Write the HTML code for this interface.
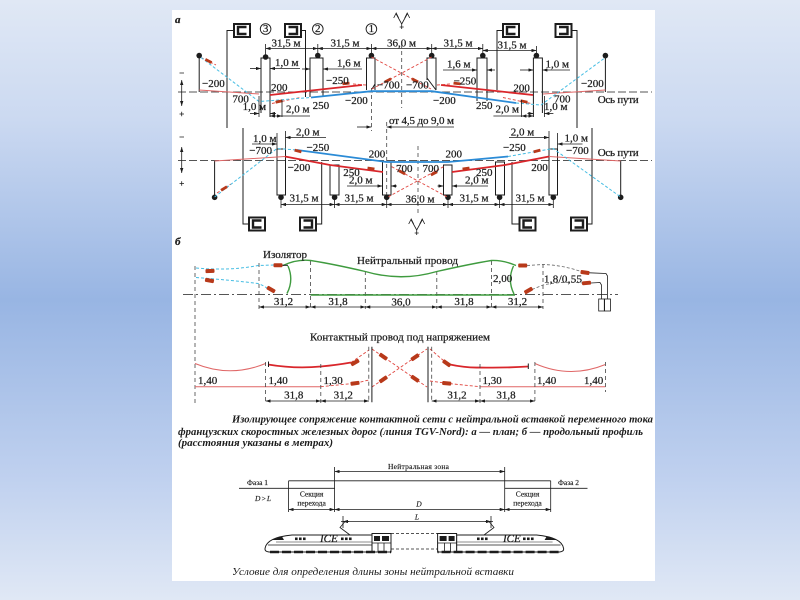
<!DOCTYPE html>
<html><head><meta charset="utf-8">
<style>
html,body{margin:0;padding:0;background:#c0d0ee}
svg{display:block}
text{font-family:"Liberation Serif","DejaVu Serif",serif;fill:#1c1c1c;font-size:11px;stroke:#1c1c1c;stroke-width:0.25}
.k{stroke:#1c1c1c;stroke-width:1;fill:none}
.d{stroke:#1c1c1c;stroke-width:0.8;fill:none;marker-start:url(#ar);marker-end:url(#ar)}
.de{stroke:#1c1c1c;stroke-width:0.8;fill:none;marker-end:url(#ar)}
.ds{stroke:#1c1c1c;stroke-width:0.8;fill:none;marker-start:url(#ar)}
.ln{stroke:#1c1c1c;stroke-width:0.8;fill:none}
.ax{stroke:#555;stroke-width:0.9;stroke-dasharray:8 3;fill:none}
.dc{stroke:#444;stroke-width:0.8;stroke-dasharray:4 3;fill:none}
.rs{stroke:#d9262b;stroke-width:1.8;fill:none}
.rt{stroke:#e06767;stroke-width:1;fill:none}
.rd{stroke:#e0453f;stroke-width:0.9;stroke-dasharray:3 2;fill:none}
.bs{stroke:#2b8bd6;stroke-width:1.8;fill:none}
.cd{stroke:#45bde3;stroke-width:1;stroke-dasharray:3 2;fill:none}
.gd{stroke:#666;stroke-width:0.8;stroke-dasharray:3 2;fill:none}
.gr{stroke:#3f9b3f;stroke-width:1.4;fill:none}
.ins{fill:#b8391a}
.sm{font-size:7.5px;stroke-width:0.15}
.cap text{stroke-width:0}
</style></head><body>
<svg width="800" height="600" viewBox="0 0 800 600" xmlns="http://www.w3.org/2000/svg">
<defs>
<linearGradient id="bg" x1="0" y1="0" x2="0" y2="1">
<stop offset="0" stop-color="#e0e8f5"/>
<stop offset="0.2" stop-color="#cbd9f1"/>
<stop offset="0.5" stop-color="#98b5e3"/>
<stop offset="0.8" stop-color="#c0d1ef"/>
<stop offset="1" stop-color="#e0e8f5"/>
</linearGradient>
<marker id="ar" viewBox="0 0 6 4" refX="6" refY="2" markerWidth="5" markerHeight="3.4" orient="auto-start-reverse" markerUnits="userSpaceOnUse"><path d="M0,0L6,2L0,4z" fill="#1c1c1c"/></marker>
<symbol id="bL" viewBox="0 0 18 15"><rect x="1" y="1" width="16" height="13" fill="#fff" stroke="#1c1c1c" stroke-width="2"/><path d="M13.5,4H5V11H13.5" fill="none" stroke="#1c1c1c" stroke-width="2.4"/></symbol>
<symbol id="bR" viewBox="0 0 18 15"><rect x="1" y="1" width="16" height="13" fill="#fff" stroke="#1c1c1c" stroke-width="2"/><path d="M4.5,4H13V11H4.5" fill="none" stroke="#1c1c1c" stroke-width="2.4"/></symbol>
<g id="sym" fill="none" stroke="#1c1c1c" stroke-width="0.8"><path d="M-5.5,-6 L0,4 L5.5,-6 M0,4V9 M-8,-2 L-5.5,-7 L-3,-2 M3,-2 L5.5,-7 L8,-2 M-2,7H2"/></g>
<g id="train">
<path d="M265,548.5 C266,541 276,536.5 292,535 L372,535 L372,552 L269,552 Q264.5,551.5 265,548.5Z" fill="#fff" stroke="#1c1c1c" stroke-width="1"/>
<path d="M271,540 L282,536.5 L284,540 Z" fill="#1c1c1c"/>
<line x1="268" y1="545" x2="372" y2="545" stroke="#1c1c1c" stroke-width="0.8"/>
<line x1="276" y1="542" x2="372" y2="542" stroke="#1c1c1c" stroke-width="0.5"/>
<g fill="#1c1c1c"><rect x="295" y="537.5" width="2.6" height="2.6"/><rect x="299" y="537.5" width="2.6" height="2.6"/><rect x="303" y="537.5" width="2.6" height="2.6"/><rect x="341" y="537.5" width="2.6" height="2.6"/><rect x="345" y="537.5" width="2.6" height="2.6"/><rect x="349" y="537.5" width="2.6" height="2.6"/></g>
<rect x="372" y="533.5" width="19" height="18.5" fill="#fff" stroke="#1c1c1c" stroke-width="1"/>
<rect x="374" y="536" width="6" height="5" fill="#1c1c1c"/><rect x="382" y="536" width="7" height="5" fill="#1c1c1c"/>
<path d="M372,543H391 M378,543V552 M384,543V552" stroke="#1c1c1c" stroke-width="0.8"/>
<line x1="270" y1="552" x2="391" y2="552" stroke="#1c1c1c" stroke-width="2.6" stroke-dasharray="9 3"/>
</g>
</defs>
<rect width="800" height="600" fill="url(#bg)"/>
<rect x="172" y="10" width="483" height="571" fill="#fff"/>

<!-- ===== a : upper track ===== -->
<text x="175" y="23" font-style="italic" font-weight="bold" font-size="10">а</text>
<line class="ax" x1="178" y1="92" x2="652" y2="92"/>
<line class="ax" x1="178" y1="160.5" x2="652" y2="160.5"/>

<path class="ln" d="M179.5,73H184 M179.5,114H184M181.7,111.8V116.2 M179.5,137H184 M179.5,183.5H184M181.7,181.3V185.7"/>
<line class="d" x1="181.7" y1="80" x2="181.7" y2="106"/>
<line class="d" x1="181.7" y1="147" x2="181.7" y2="173"/>

<path class="dc" d="M401.7,44V108 M371.4,88V131 M386.7,122V197 M418,146V214"/>
<use href="#sym" transform="translate(401.7,20)"/>
<use href="#sym" transform="translate(416.7,226)"/>

<use href="#bL" x="233" y="23" width="18" height="15"/>
<use href="#bR" x="284" y="23" width="18" height="15"/>
<use href="#bL" x="502" y="23" width="18" height="15"/>
<use href="#bR" x="554.5" y="23" width="18" height="15"/>
<path class="k" d="M233,30.5H227V128 M302,30.5H305.5V97 M502,30.5H497V90 M572.5,30.5H577V128"/>

<g fill="none" stroke="#1c1c1c" stroke-width="0.9"><circle cx="265.6" cy="29" r="5.3"/><circle cx="317.8" cy="29" r="5.3"/><circle cx="371.4" cy="29" r="5.3"/></g>
<g font-size="8.5" text-anchor="middle"><text x="265.6" y="32" font-size="8.5">3</text><text x="317.8" y="32" font-size="8.5">2</text><text x="371.4" y="32" font-size="8.5">1</text></g>

<path class="k" d="M199.2,56V92 M605.4,56V92 M261,113V58H270V117 M310,97V58H323V97 M366.5,90V58H375V90 M372,89L375,84 M427,80V58H436V90 M427,78L436,90 M477,101V58H487V101 M533.4,117V58H542.4V113"/>
<g fill="#1c1c1c"><circle cx="199.2" cy="55.6" r="2.8"/><circle cx="265.6" cy="57" r="2.8"/><circle cx="317.8" cy="55.6" r="2.8"/><circle cx="371.4" cy="55.6" r="2.8"/><circle cx="431.7" cy="55.6" r="2.8"/><circle cx="482.8" cy="55.6" r="2.8"/><circle cx="536.4" cy="55.6" r="2.8"/><circle cx="605.4" cy="55.6" r="2.8"/></g>

<path class="ln" d="M265.6,44V55 M317.8,44V55 M371.4,44V55 M431.7,44V55 M482.8,44V55 M536.4,46V55"/>
<line class="d" x1="265.6" y1="48.5" x2="317.8" y2="48.5"/>
<line class="d" x1="317.8" y1="48.5" x2="371.4" y2="48.5"/>
<line class="d" x1="371.4" y1="48.5" x2="431.7" y2="48.5"/>
<line class="d" x1="431.7" y1="48.5" x2="482.8" y2="48.5"/>
<line class="d" x1="482.8" y1="50.5" x2="536.4" y2="50.5"/>
<g text-anchor="middle"><text x="286" y="46.5">31,5 м</text><text x="345" y="46.5">31,5 м</text><text x="401.5" y="46.5">36,0 м</text><text x="458" y="46.5">31,5 м</text><text x="512" y="48.5">31,5 м</text></g>

<line class="de" x1="250" y1="68.5" x2="261" y2="68.5"/>
<line class="ds" x1="270" y1="68.5" x2="300" y2="68.5"/>
<line class="de" x1="302" y1="69" x2="310" y2="69"/>
<line class="ds" x1="323" y1="69" x2="362" y2="69"/>
<line class="de" x1="443" y1="70" x2="477" y2="70"/>
<line class="ds" x1="487" y1="70" x2="495" y2="70"/>
<line class="de" x1="520" y1="70" x2="533.4" y2="70"/>
<line class="ds" x1="542.4" y1="70" x2="570" y2="70"/>
<text x="275" y="66">1,0 м</text><text x="337" y="66.5">1,6 м</text><text x="447" y="67.5">1,6 м</text><text x="545.5" y="67.5">1,0 м</text>

<path class="rt" d="M199.2,90L259,94 M543,94L605.4,90"/>
<path class="rs" d="M270,95L362,85 M441,85L533,95"/>
<path class="rd" d="M371.4,57L431,89 M431.7,57L372,89 M201,57.5L216,65 M272,103.5L300,97.5 M503,97.5L531,103.5 M353,84L366,85 M437,85L450,84"/>
<path class="bs" d="M311,97.5L371.4,91.2L431.7,91.2L516,103"/>
<path class="cd" d="M201,57.5L259,101.5L311,97.5 M516,103L541,105L605.4,57.5"/>
<g class="ins">
<rect x="-3.5" y="-1.4" width="7" height="2.8" transform="translate(388,80.4) rotate(-28)"/>
<rect x="-3.5" y="-1.4" width="7" height="2.8" transform="translate(415,80.4) rotate(28)"/>
<rect x="-3.5" y="-1.4" width="7" height="2.8" transform="translate(346,83.5) rotate(-6)"/>
<rect x="-3.5" y="-1.4" width="7" height="2.8" transform="translate(457,83.5) rotate(6)"/>
<rect x="-3.5" y="-1.4" width="7" height="2.8" transform="translate(208.5,61) rotate(27)"/>
<rect x="-3.5" y="-1.4" width="7" height="2.8" transform="translate(279,101.5) rotate(-12)"/>
<rect x="-3.5" y="-1.4" width="7" height="2.8" transform="translate(524,101.5) rotate(12)"/>
</g>

<text x="202" y="87">−200</text>
<text x="271" y="91">200</text>
<text x="326" y="84">−250</text>
<text x="377" y="88.5">−700</text>
<text x="406" y="88.5">−700</text>
<text x="453.6" y="84.7">−250</text>
<text x="513.4" y="91.5">200</text>
<text x="581" y="87">−200</text>
<text x="232.4" y="102.3">700</text>
<text x="242.6" y="110">1,0 м</text>
<text x="286" y="112.5">2,0 м</text>
<text x="312.6" y="109">250</text>
<text x="345" y="104">−200</text>
<text x="433" y="104">−200</text>
<text x="476" y="109">250</text>
<text x="495.5" y="112.5">2,0 м</text>
<text x="554" y="102.3">700</text>
<text x="544" y="110">1,0 м</text>
<text x="597.7" y="103" textLength="41">Ось пути</text>

<path class="ln" d="M259,96V117 M282,100V117 M544.4,96V117 M521.4,100V117"/>
<line class="de" x1="250" y1="113.5" x2="259" y2="113.5"/>
<line class="ds" x1="270" y1="113.5" x2="276" y2="113.5"/>
<line class="d" x1="270" y1="116" x2="282" y2="116"/>
<line class="ln" x1="282" y1="116" x2="310" y2="116"/>
<line class="de" x1="553.4" y1="113.5" x2="544.4" y2="113.5"/>
<line class="ds" x1="533.4" y1="113.5" x2="527.4" y2="113.5"/>
<line class="d" x1="533.4" y1="116" x2="521.4" y2="116"/>
<line class="ln" x1="521.4" y1="116" x2="493.4" y2="116"/>

<line class="de" x1="357" y1="127" x2="371.4" y2="127"/>
<line class="ds" x1="386.7" y1="127" x2="454" y2="127"/>
<text x="389" y="124" textLength="65">от 4,5 до 9,0 м</text>

<!-- ===== a : lower track ===== -->
<use href="#bL" x="248" y="216.5" width="18" height="15"/>
<use href="#bR" x="299" y="216.5" width="18" height="15"/>
<use href="#bL" x="518.5" y="216.5" width="18" height="15"/>
<use href="#bR" x="570" y="216.5" width="18" height="15"/>
<path class="k" d="M248,224H243V128 M317,224H321.7V162 M518.5,224H512V162 M588,224H592V128"/>

<path class="k" d="M214.6,161V197 M620.7,161V197"/>
<g class="k"><rect x="277" y="149" width="8.5" height="46"/><rect x="330" y="165" width="9" height="30"/><rect x="382.5" y="162" width="8.5" height="33"/><rect x="443.5" y="165" width="8.5" height="30"/><rect x="495.5" y="162" width="9" height="33"/><rect x="549" y="149" width="8.5" height="46"/></g>
<g fill="#1c1c1c"><circle cx="214.6" cy="197.3" r="2.8"/><circle cx="281" cy="197.3" r="2.8"/><circle cx="334.6" cy="197.3" r="2.8"/><circle cx="386.7" cy="197.3" r="2.8"/><circle cx="448" cy="197.3" r="2.8"/><circle cx="499.6" cy="197.3" r="2.8"/><circle cx="553.3" cy="197.3" r="2.8"/><circle cx="620.7" cy="197.3" r="2.8"/></g>

<path class="ln" d="M281,198V208 M334.6,198V208 M386.7,198V208 M448,198V208 M499.6,198V208 M553.3,198V208"/>
<line class="d" x1="281" y1="204.5" x2="334.6" y2="204.5"/>
<line class="d" x1="334.6" y1="204.5" x2="386.7" y2="204.5"/>
<line class="d" x1="386.7" y1="204.5" x2="448" y2="204.5"/>
<line class="d" x1="448" y1="204.5" x2="499.6" y2="204.5"/>
<line class="d" x1="499.6" y1="204.5" x2="553.3" y2="204.5"/>
<g text-anchor="middle"><text x="304" y="201.5">31,5 м</text><text x="359" y="201.5">31,5 м</text><text x="420" y="202.5">36,0 м</text><text x="474" y="201.5">31,5 м</text><text x="530" y="201.5">31,5 м</text></g>

<path class="ln" d="M277,133V149 M285.5,131V149 M557.5,133V149 M549,131V149"/>
<line class="de" x1="252" y1="144" x2="277" y2="144"/>
<line class="ds" x1="285.5" y1="137.5" x2="326" y2="137.5"/>
<line class="de" x1="582.5" y1="144" x2="557.5" y2="144"/>
<line class="ds" x1="549" y1="137.5" x2="509" y2="137.5"/>
<line class="de" x1="347" y1="186" x2="382.5" y2="186"/>
<line class="ds" x1="391" y1="186" x2="397" y2="186"/>
<line class="de" x1="488" y1="186" x2="452" y2="186"/>
<line class="ds" x1="443.5" y1="186" x2="437.5" y2="186"/>

<path class="rt" d="M214.6,161L285,156.5 M549,156.5L620.7,161"/>
<path class="rs" d="M285,156.5L330,165L383,172 M452,172L505,165L549,156.5"/>
<path class="rd" d="M391.7,166.7L446.7,196.7 M443.5,166.7L388.5,196.7 M217,193L231,184"/>
<path class="bs" d="M297,150L386.7,162L448,162L508,156.5"/>
<path class="cd" d="M214.6,197L277,148.5L297,150 M508,156.5L553,148.5L620.7,197"/>
<g class="ins">
<rect x="-3.5" y="-1.4" width="7" height="2.8" transform="translate(402,172.3) rotate(28.6)"/>
<rect x="-3.5" y="-1.4" width="7" height="2.8" transform="translate(434,173.4) rotate(-28)"/>
<rect x="-3.5" y="-1.4" width="7" height="2.8" transform="translate(298,151) rotate(15)"/>
<rect x="-3.5" y="-1.4" width="7" height="2.8" transform="translate(537,151) rotate(-15)"/>
<rect x="-3.5" y="-1.4" width="7" height="2.8" transform="translate(224,188.5) rotate(-32)"/>
<rect x="-3.5" y="-1.4" width="7" height="2.8" transform="translate(371,168.5) rotate(8)"/>
<rect x="-3.5" y="-1.4" width="7" height="2.8" transform="translate(466,168.5) rotate(-8)"/>
</g>

<text x="296" y="135.5">2,0 м</text>
<text x="253" y="142">1,0 м</text>
<text x="249.3" y="154">−700</text>
<text x="306.5" y="151">−250</text>
<text x="287.6" y="171">−200</text>
<text x="368.8" y="157.5">200</text>
<text x="445.5" y="157.5">200</text>
<text x="343.3" y="176">250</text>
<text x="476" y="176">250</text>
<text x="349" y="183.5">2,0 м</text>
<text x="465" y="183.5">2,0 м</text>
<text x="396" y="172">700</text>
<text x="422.5" y="172">700</text>
<text x="503" y="151">−250</text>
<text x="531.3" y="171">200</text>
<text x="510.8" y="135.5">2,0 м</text>
<text x="564.5" y="141.5">1,0 м</text>
<text x="566" y="154">−700</text>
<text x="597.7" y="156" textLength="41">Ось пути</text>

<!-- ===== б ===== -->
<text x="175" y="245" font-style="italic" font-weight="bold" font-size="10">б</text>
<line x1="183" y1="294.5" x2="618" y2="294.5" stroke="#555" stroke-width="0.9" stroke-dasharray="10 3 2 3"/>
<path class="dc" d="M195,266V403 M259,263V309 M310.6,261V309 M365.3,271V309 M436.8,271V309 M491.4,261V309 M543,264V309"/>
<line class="gr" x1="310.6" y1="295" x2="515" y2="295" stroke-width="2"/>
<path class="gr" d="M283,265.5 Q297,259 310.6,260.5 Q333,264 365.3,271.5 Q401,282 436.8,271.5 Q470,264 491.4,260.5 Q503,260 516,265.5"/>
<path class="gr" stroke-width="1" d="M288,266 Q294,280 287,293.5 M513.5,266 Q507,280 514,294"/>
<path class="k" d="M282,265.3H288"/>
<path class="cd" d="M196,268 Q230,271 258,265.5 L274,265 M196,277.5 Q230,280 258,283.5 Q265,286 268,289"/>
<path class="gd" d="M527,265.5 L543,264.5 Q562,265 581,271.5 M532,289.5 L543,285 Q562,281 582,283"/>
<path class="ln" d="M589.5,272.8 L606,273.5 L607.5,276 V299 M591,283 L600,282.5 L601.5,285 V299"/>
<rect x="598.7" y="299" width="5.6" height="12" fill="none" stroke="#1c1c1c" stroke-width="0.8"/>
<rect x="604.6" y="299" width="5.9" height="12" fill="none" stroke="#1c1c1c" stroke-width="0.8"/>
<g class="ins">
<rect x="-4.5" y="-2" width="9" height="4" rx="1" transform="translate(278,265.3)"/>
<rect x="-4.5" y="-2" width="9" height="4" rx="1" transform="translate(271,289.5) rotate(30)"/>
<rect x="-4.5" y="-2" width="9" height="4" rx="1" transform="translate(210,271) rotate(-3)"/>
<rect x="-4.5" y="-2" width="9" height="4" rx="1" transform="translate(209.5,280.5) rotate(10)"/>
<rect x="-4.5" y="-2" width="9" height="4" rx="1" transform="translate(522.7,265.5)"/>
<rect x="-4.5" y="-2" width="9" height="4" rx="1" transform="translate(528.5,290.5) rotate(-30)"/>
<rect x="-4.5" y="-2" width="9" height="4" rx="1" transform="translate(585,272.5) rotate(8)"/>
<rect x="-4.5" y="-2" width="9" height="4" rx="1" transform="translate(586.5,283) rotate(-5)"/>
</g>
<line class="d" x1="259" y1="307" x2="310.6" y2="307"/>
<line class="d" x1="310.6" y1="307" x2="365.3" y2="307"/>
<line class="d" x1="365.3" y1="307" x2="436.8" y2="307"/>
<line class="d" x1="436.8" y1="307" x2="491.4" y2="307"/>
<line class="d" x1="491.4" y1="307" x2="543" y2="307"/>
<g text-anchor="middle"><text x="283.5" y="305">31,2</text><text x="338" y="305">31,8</text><text x="401" y="305.5">36,0</text><text x="464" y="305">31,8</text><text x="517.5" y="305">31,2</text></g>
<text x="263" y="258" textLength="44">Изолятор</text>
<text x="357" y="264" textLength="101">Нейтральный провод</text>
<text x="493" y="282">2,00</text>
<text x="544" y="282.5" textLength="38">1,8/0,55</text>

<text x="310" y="340.5" textLength="180">Контактный провод под напряжением</text>
<path class="rt" d="M195,363.5 Q230,378 265.6,363.5 M534.9,363.5 Q570,379 605.4,364.5 M195,386.7H320.8 M480,386.7H605.4"/>
<path class="rs" stroke-width="1.5" d="M268,364.5 Q295,369 320.8,366.5 Q337,365 351,362.5 M450,364.5 Q466,368 480,367.5 Q505,368 528.3,366.5"/>
<path class="k" d="M268.5,361.5V367 M528.3,363.5V369"/>
<path class="rd" d="M320.8,386.7 L355,383.3 L369,380 M351,362.5 L369,350 M430,349 L446.7,363.3 L450,364.5 M430,381 L446.7,383.3 L480,386.7 M372,349 L427,387 M372,387 L427,349"/>
<g class="ins">
<rect x="-4.5" y="-2" width="9" height="4" rx="1" transform="translate(355,362.5) rotate(-30)"/>
<rect x="-4.5" y="-2" width="9" height="4" rx="1" transform="translate(355,383.3) rotate(-8)"/>
<rect x="-4.5" y="-2" width="9" height="4" rx="1" transform="translate(383.3,356.6) rotate(34.6)"/>
<rect x="-4.5" y="-2" width="9" height="4" rx="1" transform="translate(415,378.7) rotate(34.6)"/>
<rect x="-4.5" y="-2" width="9" height="4" rx="1" transform="translate(383.3,379.4) rotate(-34.6)"/>
<rect x="-4.5" y="-2" width="9" height="4" rx="1" transform="translate(415,357.3) rotate(-34.6)"/>
<rect x="-4.5" y="-2" width="9" height="4" rx="1" transform="translate(446.7,363.3) rotate(35)"/>
<rect x="-4.5" y="-2" width="9" height="4" rx="1" transform="translate(446.7,383.3) rotate(5)"/>
</g>
<path class="dc" d="M368.8,346.7V402.3 M431.7,346.7V402.3 M265.6,362V403 M320.8,364V403 M480,364V403 M534.9,362V403 M605.4,362V392"/>
<path class="k" d="M371.9,346.7V402.3 M428,346.7V402.3"/>
<line class="d" x1="265.6" y1="401" x2="320.8" y2="401"/>
<line class="d" x1="320.8" y1="401" x2="369" y2="401"/>
<line class="d" x1="431.7" y1="401" x2="480" y2="401"/>
<line class="d" x1="480" y1="401" x2="534.9" y2="401"/>
<text x="198" y="384">1,40</text><text x="268.5" y="384">1,40</text><text x="323.5" y="384">1,30</text><text x="482.5" y="384">1,30</text><text x="537" y="384">1,40</text><text x="584" y="384">1,40</text>
<g text-anchor="middle"><text x="293.7" y="398.5">31,8</text><text x="343.3" y="398.5">31,2</text><text x="457" y="398.5">31,2</text><text x="506" y="398.5">31,8</text></g>

<g class="cap" font-style="italic" font-weight="bold" font-size="11">
<text x="232" y="422.5" font-size="11" textLength="421" lengthAdjust="spacingAndGlyphs">Изолирующее сопряжение контактной сети с нейтральной вставкой переменного тока</text>
<text x="178" y="435" font-size="11" textLength="465" lengthAdjust="spacingAndGlyphs">французских скоростных железных дорог (линия TGV-Nord): а — план; б — продольный профиль</text>
<text x="178" y="446" font-size="11" textLength="155" lengthAdjust="spacingAndGlyphs">(расстояния указаны в метрах)</text>
</g>

<!-- ===== neutral zone diagram ===== -->
<path class="ln" stroke-width="1" d="M334.6,467V512 M504.7,467V512 M288.6,480.8V512 M550.7,480.8V512"/>
<path class="ln" stroke-width="1.3" d="M288.6,480.8H550.7 M239,488.3H334.6 M504.7,488.3H587.5"/>
<line class="d" x1="334.6" y1="471.5" x2="504.7" y2="471.5"/>
<line class="d" x1="288.6" y1="509.5" x2="334.6" y2="509.5"/>
<line class="d" x1="334.6" y1="509.5" x2="504.7" y2="509.5"/>
<line class="d" x1="504.7" y1="509.5" x2="550.7" y2="509.5"/>
<path class="ln" d="M343,516V528 M491,516V528"/>
<line class="d" x1="343" y1="521.5" x2="491" y2="521.5"/>
<text class="sm" x="388" y="469" textLength="61">Нейтральная зона</text>
<text class="sm" x="247" y="485" textLength="21">Фаза 1</text>
<text class="sm" x="558" y="485" textLength="21">Фаза 2</text>
<text class="sm" x="255" y="501" textLength="16" font-style="italic">D &gt; L</text>
<g text-anchor="middle">
<text class="sm" x="311.6" y="496.5">Секция</text><text class="sm" x="311.6" y="505.5">перехода</text>
<text class="sm" x="527.5" y="496.5">Секция</text><text class="sm" x="527.5" y="505.5">перехода</text>
<text class="sm" x="419" y="506.5" font-style="italic">D</text>
<text class="sm" x="417" y="519.5" font-style="italic">L</text>
</g>
<use href="#train"/>
<use href="#train" transform="matrix(-1,0,0,1,828.6,0)"/>
<text x="320" y="542" font-size="4.5" font-style="italic" stroke-width="0">ICE</text>
<text x="503" y="542" font-size="4.5" font-style="italic" stroke-width="0">ICE</text>
<path class="ln" stroke-width="1.2" d="M350,535 L340,527.5 L345,521.5 M341,521.5H349 M484,535 L494,527.5 L489,521.5 M485,521.5H493"/>
<path stroke="#1c1c1c" stroke-width="0.8" stroke-dasharray="3 2" fill="none" d="M391,533.5H438 M391,549H438"/>

<g class="cap"><text x="232" y="575" font-style="italic" font-size="11" textLength="282" lengthAdjust="spacingAndGlyphs">Условие для определения длины зоны нейтральной вставки</text></g>
</svg>
</body></html>
